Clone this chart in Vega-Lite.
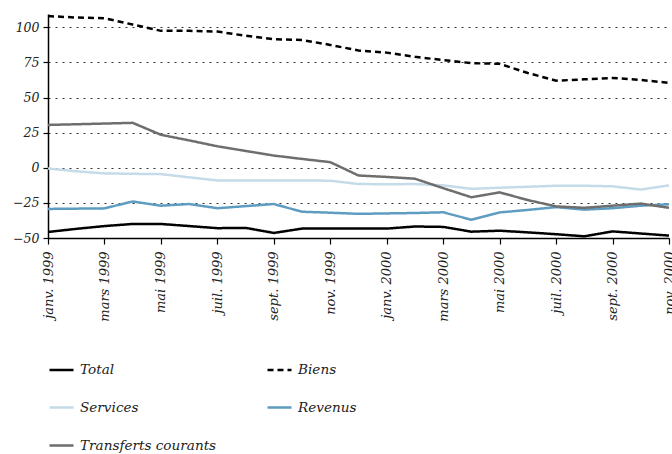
{
  "$schema": "https://vega.github.io/schema/vega-lite/v6.json",
  "autosize": "none",
  "width": 621,
  "height": 224,
  "padding": {"left": 48, "top": 14, "right": 3, "bottom": 216},
  "background": "white",
  "config": {
    "view": {"stroke": null},
    "font": "DejaVu Serif",
    "axis": {"labelFont": "DejaVu Serif", "labelFontStyle": "italic", "labelColor": "#222", "domainColor": "#000", "tickColor": "#000"}
  },
  "data": {
    "values": [
      {"mois": "janv. 1999", "Total": -45.7, "Biens": 108, "Services": -0.5, "Revenus": -29.3, "Transferts courants": 30.5},
      {"mois": "févr. 1999", "Total": -43.5, "Biens": 107, "Services": -2.5, "Revenus": -29.1, "Transferts courants": 31},
      {"mois": "mars 1999", "Total": -41.5, "Biens": 106.5, "Services": -4, "Revenus": -28.9, "Transferts courants": 31.5},
      {"mois": "avr. 1999", "Total": -40, "Biens": 102, "Services": -4.3, "Revenus": -24, "Transferts courants": 32},
      {"mois": "mai 1999", "Total": -40, "Biens": 97.5, "Services": -4.5, "Revenus": -27, "Transferts courants": 23.5},
      {"mois": "juin 1999", "Total": -41.5, "Biens": 97.5, "Services": -6.8, "Revenus": -25.8, "Transferts courants": 19.5},
      {"mois": "juil. 1999", "Total": -43, "Biens": 97, "Services": -9, "Revenus": -28.8, "Transferts courants": 15.3},
      {"mois": "août 1999", "Total": -42.8, "Biens": 94, "Services": -9, "Revenus": -27.3, "Transferts courants": 12},
      {"mois": "sept. 1999", "Total": -46.4, "Biens": 91.5, "Services": -9, "Revenus": -25.8, "Transferts courants": 8.7},
      {"mois": "oct. 1999", "Total": -43.3, "Biens": 91, "Services": -9, "Revenus": -31.3, "Transferts courants": 6.3},
      {"mois": "nov. 1999", "Total": -43.3, "Biens": 87.5, "Services": -9.2, "Revenus": -32, "Transferts courants": 4},
      {"mois": "déc. 1999", "Total": -43.3, "Biens": 83.5, "Services": -11.6, "Revenus": -32.8, "Transferts courants": -5.5},
      {"mois": "janv. 2000", "Total": -43.3, "Biens": 82, "Services": -11.7, "Revenus": -32.5, "Transferts courants": -6.5},
      {"mois": "févr. 2000", "Total": -41.8, "Biens": 79, "Services": -11.6, "Revenus": -32.2, "Transferts courants": -7.8},
      {"mois": "mars 2000", "Total": -42.1, "Biens": 76.7, "Services": -12.5, "Revenus": -31.7, "Transferts courants": -14.5},
      {"mois": "avr. 2000", "Total": -45.5, "Biens": 74.5, "Services": -15, "Revenus": -37, "Transferts courants": -21},
      {"mois": "mai 2000", "Total": -44.8, "Biens": 74, "Services": -14.2, "Revenus": -31.8, "Transferts courants": -17.5},
      {"mois": "juin 2000", "Total": -46, "Biens": 67.5, "Services": -13.5, "Revenus": -30, "Transferts courants": -23},
      {"mois": "juil. 2000", "Total": -47.3, "Biens": 62, "Services": -12.8, "Revenus": -28, "Transferts courants": -27.5},
      {"mois": "août 2000", "Total": -48.8, "Biens": 63, "Services": -12.8, "Revenus": -29.8, "Transferts courants": -28.5},
      {"mois": "sept. 2000", "Total": -45.3, "Biens": 64, "Services": -13.2, "Revenus": -28.8, "Transferts courants": -27},
      {"mois": "oct. 2000", "Total": -46.8, "Biens": 62.5, "Services": -15.5, "Revenus": -27, "Transferts courants": -25.5},
      {"mois": "nov. 2000", "Total": -48.3, "Biens": 60.5, "Services": -12.5, "Revenus": -26, "Transferts courants": -28.5}
    ]
  },
  "transform": [
    {"fold": ["Total", "Biens", "Services", "Revenus", "Transferts courants"], "as": ["serie", "valeur"]}
  ],
  "mark": {"type": "line", "strokeWidth": 2.5, "clip": false},
  "encoding": {
    "x": {
      "field": "mois", "type": "ordinal", "sort": null,
      "scale": {"type": "point", "padding": 0},
      "axis": {
        "title": null,
        "values": ["janv. 1999", "mars 1999", "mai 1999", "juil. 1999", "sept. 1999", "nov. 1999", "janv. 2000", "mars 2000", "mai 2000", "juil. 2000", "sept. 2000", "nov. 2000"],
        "labelAngle": 270, "labelAlign": "right", "labelBaseline": "middle",
        "labelFontSize": 13, "labelPadding": 7, "tickSize": 6, "domainWidth": 1.5, "tickWidth": 1.2,
        "grid": false, "labelOverlap": false, "labelBound": false, "labelFlush": false
      }
    },
    "y": {
      "field": "valeur", "type": "quantitative",
      "scale": {"domain": [-50, 109.5], "nice": false, "zero": false},
      "axis": {
        "title": null,
        "values": [-50, -25, 0, 25, 50, 75, 100],
        "labelFontSize": 12.5, "labelPadding": 4, "tickSize": 5, "domainWidth": 1.5, "tickWidth": 1.2,
        "grid": true, "gridDash": [2, 5], "gridColor": "#333", "gridWidth": 1.1
      }
    },
    "color": {
      "field": "serie", "type": "nominal",
      "scale": {
        "domain": ["Total", "Biens", "Services", "Revenus", "Transferts courants"],
        "range": ["#000000", "#000000", "#c5dbe9", "#5f9cc1", "#6e6e6e"]
      },
      "legend": {
        "title": null, "orient": "none", "legendX": 0, "legendY": 342,
        "columns": 2, "direction": "horizontal", "padding": 0,
        "symbolType": "stroke", "symbolSize": 576, "symbolStrokeWidth": 2.5,
        "labelFont": "DejaVu Serif", "labelFontStyle": "italic", "labelFontSize": 13.6, "labelColor": "#222",
        "labelOffset": 5, "rowPadding": 17, "columnPadding": 45, "labelLimit": 300
      }
    },
    "strokeDash": {
      "field": "serie", "type": "nominal",
      "scale": {
        "domain": ["Total", "Biens", "Services", "Revenus", "Transferts courants"],
        "range": [[1, 0], [6, 4], [1, 0], [1, 0], [1, 0]]
      },
      "legend": {
        "title": null, "orient": "none", "legendX": 0, "legendY": 342,
        "columns": 2, "direction": "horizontal", "padding": 0,
        "symbolType": "stroke", "symbolSize": 576, "symbolStrokeWidth": 2.5,
        "labelFont": "DejaVu Serif", "labelFontStyle": "italic", "labelFontSize": 13.6, "labelColor": "#222",
        "labelOffset": 5, "rowPadding": 17, "columnPadding": 45, "labelLimit": 300
      }
    }
  }
}
